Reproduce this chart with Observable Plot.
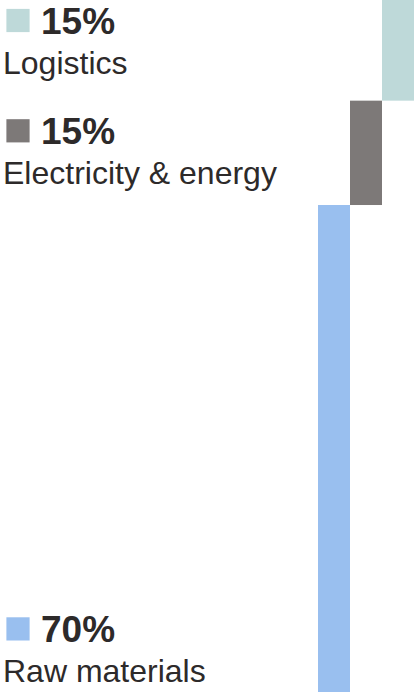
<!DOCTYPE html>
<html>
<head>
<meta charset="utf-8">
<script src="https://cdn.jsdelivr.net/npm/d3@7"></script>
<script src="https://cdn.jsdelivr.net/npm/@observablehq/plot@0.6"></script>
<style>
  html, body { margin: 0; padding: 0; background: #ffffff; }
  #chart svg { display: block; }
</style>
</head>
<body>
<div id="chart"></div>
<script>
// Cost breakdown, stacked bottom-up
const categories = ["Raw materials", "Electricity & energy", "Logistics"];
const shares = [70, 15, 15];
const colors = ["#99bfef", "#7d7978", "#bed9d9"];

const ink = "#2d2a2a";
const font = "'Liberation Sans', Arial, Helvetica, sans-serif";

// cumulative start/end of each segment
let acc = 0;
const rows = categories.map((name, i) => {
  const start = acc;
  acc += shares[i];
  return {name, share: shares[i], start, end: acc, color: colors[i]};
});

// label block: colour square, bold share, category name
function labelMarks(d, anchor, baseDy) {
  return [
    Plot.dot([d], {
      frameAnchor: anchor, dx: 17.5, dy: baseDy - 13.3,
      r: 13.1, symbol: "square", fill: d.color, stroke: null
    }),
    Plot.text([d], {
      frameAnchor: anchor, dx: 40.5, dy: baseDy,
      text: (r) => `${r.share}%`, lineAnchor: "bottom", textAnchor: "start",
      fontSize: 37, fontWeight: "bold", fontFamily: font, fill: ink
    }),
    Plot.text([d], {
      frameAnchor: anchor, dx: 2.5, dy: baseDy + 40,
      text: "name", lineAnchor: "bottom", textAnchor: "start",
      fontSize: 32, fontFamily: font, fill: ink
    })
  ];
}

// base segment labelled at the bottom, upper segments listed from the top
const upper = rows.slice(1).reverse();
const labels = [
  ...upper.flatMap((d, i) => labelMarks(d, "top-left", 33.3 + i * 110.3)),
  ...labelMarks(rows[0], "bottom-left", -50.3)
];

const chart = Plot.plot({
  width: 416,
  height: 692,
  marginTop: 0,
  marginRight: 0,
  marginBottom: 0,
  marginLeft: 0,
  style: {fontFamily: font, background: "#ffffff"},
  x: {domain: categories, range: [318, 414], padding: 0, axis: null},
  y: {domain: [0, 100], range: [692, -3.7], axis: null},
  color: {domain: categories, range: colors},
  marks: [
    Plot.barY(rows, {x: "name", y1: "start", y2: "end", fill: "name", inset: 0}),
    ...labels
  ]
});

document.getElementById("chart").appendChild(chart);
</script>
</body>
</html>
